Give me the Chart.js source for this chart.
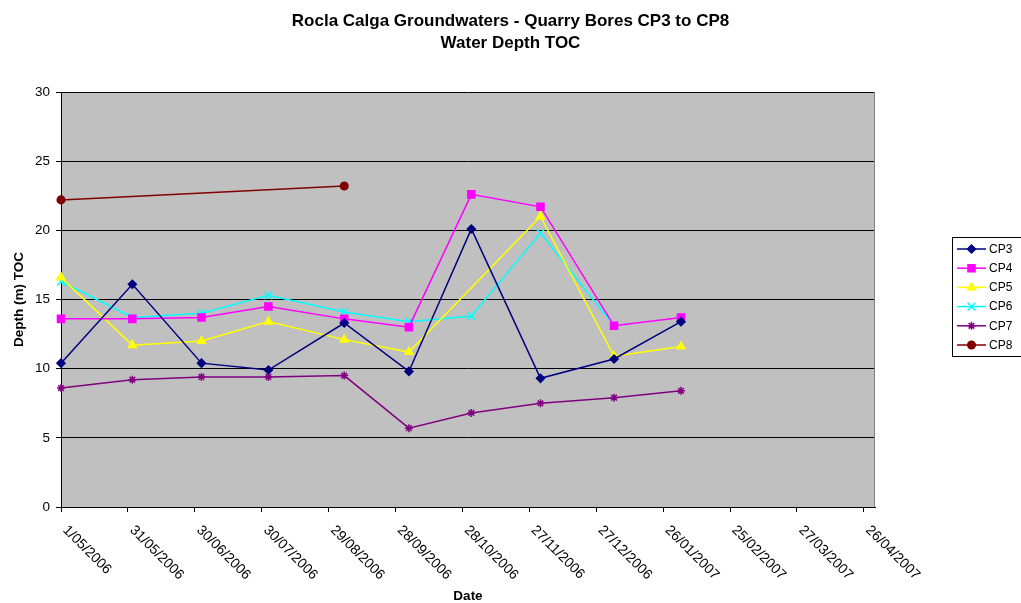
<!DOCTYPE html>
<html>
<head>
<meta charset="utf-8">
<title>Rocla Calga Groundwaters - Water Depth TOC</title>
<script src="https://cdn.jsdelivr.net/npm/chart.js@4.4.1/dist/chart.umd.min.js"></script>
<style>
  html, body { margin: 0; padding: 0; background: #fff; }
  #wrap { width: 1021px; height: 603px; }
</style>
</head>
<body>
<div id="wrap"><canvas id="depthChart" width="1021" height="603"></canvas></div>
<script>
const FONT = '"Liberation Sans", Arial, sans-serif';

// sampling rounds (d/mm/yyyy) and depth to water below top of casing, metres
const sampleDates = ['1/05/2006', '2/06/2006', '3/07/2006', '2/08/2006', '5/09/2006',
                     '4/10/2006', '1/11/2006', '2/12/2006', '4/01/2007', '3/02/2007'];
const cp3 = [10.4, 16.1, 10.4, 9.9, 13.3, 9.8, 20.1, 9.3, 10.7, 13.4];
const cp4 = [13.6, 13.6, 13.7, 14.5, 13.6, 13.0, 22.6, 21.7, 13.1, 13.7];
const cp5 = [16.6, 11.7, 12.0, 13.4, 12.1, 11.2, null, 21.0, 10.9, 11.6];
const cp6 = [16.3, 13.7, 14.0, 15.3, 14.1, 13.4, 13.8, 19.8, 13.1, null];
const cp7 = [8.6, 9.2, 9.4, 9.4, 9.5, 5.7, 6.8, 7.5, 7.9, 8.4];
const cp8 = [22.2, null, null, null, 23.2, null, null, null, null, null];

// date axis runs a full year, labelled every 30 days
const axisStart = '1/05/2006';
const axisEnd   = '1/05/2007';
const tickDates = ['1/05/2006', '31/05/2006', '30/06/2006', '30/07/2006', '29/08/2006', '28/09/2006',
                   '28/10/2006', '27/11/2006', '27/12/2006', '26/01/2007', '25/02/2007', '27/03/2007', '26/04/2007'];
const yTicks = [0, 5, 10, 15, 20, 25, 30];

const titleLines = ['Rocla Calga Groundwaters - Quarry Bores CP3 to CP8', 'Water Depth TOC'];

function dayNo(str) {
    const [d, m, y] = str.split('/').map(Number);
    const [d0, m0, y0] = axisStart.split('/').map(Number);
    return Math.round((Date.UTC(y, m - 1, d) - Date.UTC(y0, m0 - 1, d0)) / 86400000);
}

function points(vals) {
    return sampleDates.map((d, i) => ({ x: dayNo(d), y: vals[i] }));
}

function series(label, vals, color, style, radius) {
    return {
        label, data: points(vals),
        borderColor: color, backgroundColor: color,
        pointBackgroundColor: color, pointBorderColor: color,
        pointStyle: style, pointRadius: radius, pointBorderWidth: 1.5,
        borderWidth: 1.5, tension: 0, spanGaps: true, clip: false
    };
}

// plot area fill and right-hand frame
const plotFrame = {
    id: 'plotFrame',
    beforeDraw(chart) {
        const { ctx, chartArea: a } = chart;
        ctx.save();
        ctx.fillStyle = '#C0C0C0';
        ctx.fillRect(a.left, a.top, a.right - a.left, a.bottom - a.top);
        ctx.restore();
    },
    beforeDatasetsDraw(chart) {
        const { ctx, chartArea: a } = chart;
        ctx.save();
        ctx.strokeStyle = '#808080';
        ctx.lineWidth = 1;
        ctx.beginPath();
        ctx.moveTo(Math.round(a.right) - 0.5, a.top);
        ctx.lineTo(Math.round(a.right) - 0.5, a.bottom);
        ctx.stroke();
        ctx.restore();
    }
};

// two-line heading centred on the canvas
const heading = {
    id: 'heading',
    afterDraw(chart) {
        const ctx = chart.ctx;
        ctx.save();
        ctx.font = 'bold 17px ' + FONT;
        ctx.fillStyle = '#000';
        ctx.textAlign = 'center';
        ctx.textBaseline = 'middle';
        titleLines.forEach((t, i) => ctx.fillText(t, chart.width / 2, 21 + i * 22));
        ctx.restore();
    }
};

// date labels hang down to the right of each tick
const dateLabels = {
    id: 'dateLabels',
    afterDraw(chart) {
        const { ctx } = chart;
        const xs = chart.scales.x;
        ctx.save();
        ctx.font = '14px ' + FONT;
        ctx.fillStyle = '#000';
        ctx.textAlign = 'left';
        ctx.textBaseline = 'middle';
        tickDates.forEach(t => {
            const px = xs.getPixelForValue(dayNo(t));
            ctx.save();
            ctx.translate(px + 4, xs.top + 21);
            ctx.rotate(Math.PI / 4);
            ctx.fillText(t, 0, 0);
            ctx.restore();
        });
        ctx.restore();
    }
};

// boxed legend with line + marker swatches
const sideLegend = {
    id: 'sideLegend',
    afterDraw(chart) {
        const ctx = chart.ctx;
        ctx.save();
        ctx.fillStyle = '#fff';
        ctx.fillRect(952.5, 237.5, 80, 119);
        ctx.strokeStyle = '#000';
        ctx.lineWidth = 1;
        ctx.strokeRect(952.5, 237.5, 80, 119);
        chart.data.datasets.forEach((ds, i) => {
            const y = 249 + i * 19.2;
            ctx.strokeStyle = ds.borderColor;
            ctx.fillStyle = ds.backgroundColor;
            ctx.lineWidth = 1.5;
            ctx.beginPath();
            ctx.moveTo(957, y);
            ctx.lineTo(986, y);
            ctx.stroke();
            Chart.helpers.drawPoint(ctx, {
                pointStyle: ds.pointStyle, radius: ds.pointRadius, rotation: 0, borderWidth: 1.5
            }, 971.5, y);
            ctx.fillStyle = '#000';
            ctx.font = '12px ' + FONT;
            ctx.textAlign = 'left';
            ctx.textBaseline = 'middle';
            ctx.fillText(ds.label, 989, y + 0.5);
        });
        ctx.restore();
    }
};

new Chart(document.getElementById('depthChart'), {
    type: 'line',
    data: {
        datasets: [
            series('CP3', cp3, '#000080', 'rectRot', 4),
            series('CP4', cp4, '#FF00FF', 'rect', 5),
            series('CP5', cp5, '#FFFF00', 'triangle', 4.6),
            series('CP6', cp6, '#00FFFF', 'crossRot', 5.5),
            series('CP7', cp7, '#800080', 'star', 4),
            series('CP8', cp8, '#800000', 'circle', 3.8)
        ]
    },
    options: {
        responsive: false,
        animation: false,
        layout: { padding: { left: 0, right: 146, top: 92, bottom: 0 } },
        plugins: {
            legend: { display: false },
            tooltip: { enabled: false },
            title: { display: false }
        },
        scales: {
            x: {
                type: 'linear',
                min: dayNo(axisStart),
                max: dayNo(axisEnd),
                afterFit: s => { s.height = 96; },
                afterBuildTicks: s => { s.ticks = tickDates.map(t => ({ value: dayNo(t) })); },
                ticks: { display: false },
                grid: { drawOnChartArea: false, drawTicks: true, tickLength: 5, color: '#000' },
                border: { color: '#000', width: 1 },
                title: {
                    display: true, text: 'Date', color: '#000', padding: 0,
                    font: { family: FONT, size: 13.5, weight: 'bold', lineHeight: 1 }
                }
            },
            y: {
                min: 0,
                max: 30,
                afterFit: s => { s.width = 61; },
                afterBuildTicks: s => { s.ticks = yTicks.map(v => ({ value: v })); },
                ticks: { color: '#000', padding: 6, font: { family: FONT, size: 13.5 } },
                grid: { color: '#000', tickLength: 5 },
                border: { color: '#000', width: 1 },
                title: {
                    display: true, text: 'Depth (m) TOC', color: '#000', padding: { top: 13, bottom: 0 },
                    font: { family: FONT, size: 13.5, weight: 'bold', lineHeight: 1 }
                }
            }
        }
    },
    plugins: [plotFrame, heading, dateLabels, sideLegend]
});
</script>
</body>
</html>
